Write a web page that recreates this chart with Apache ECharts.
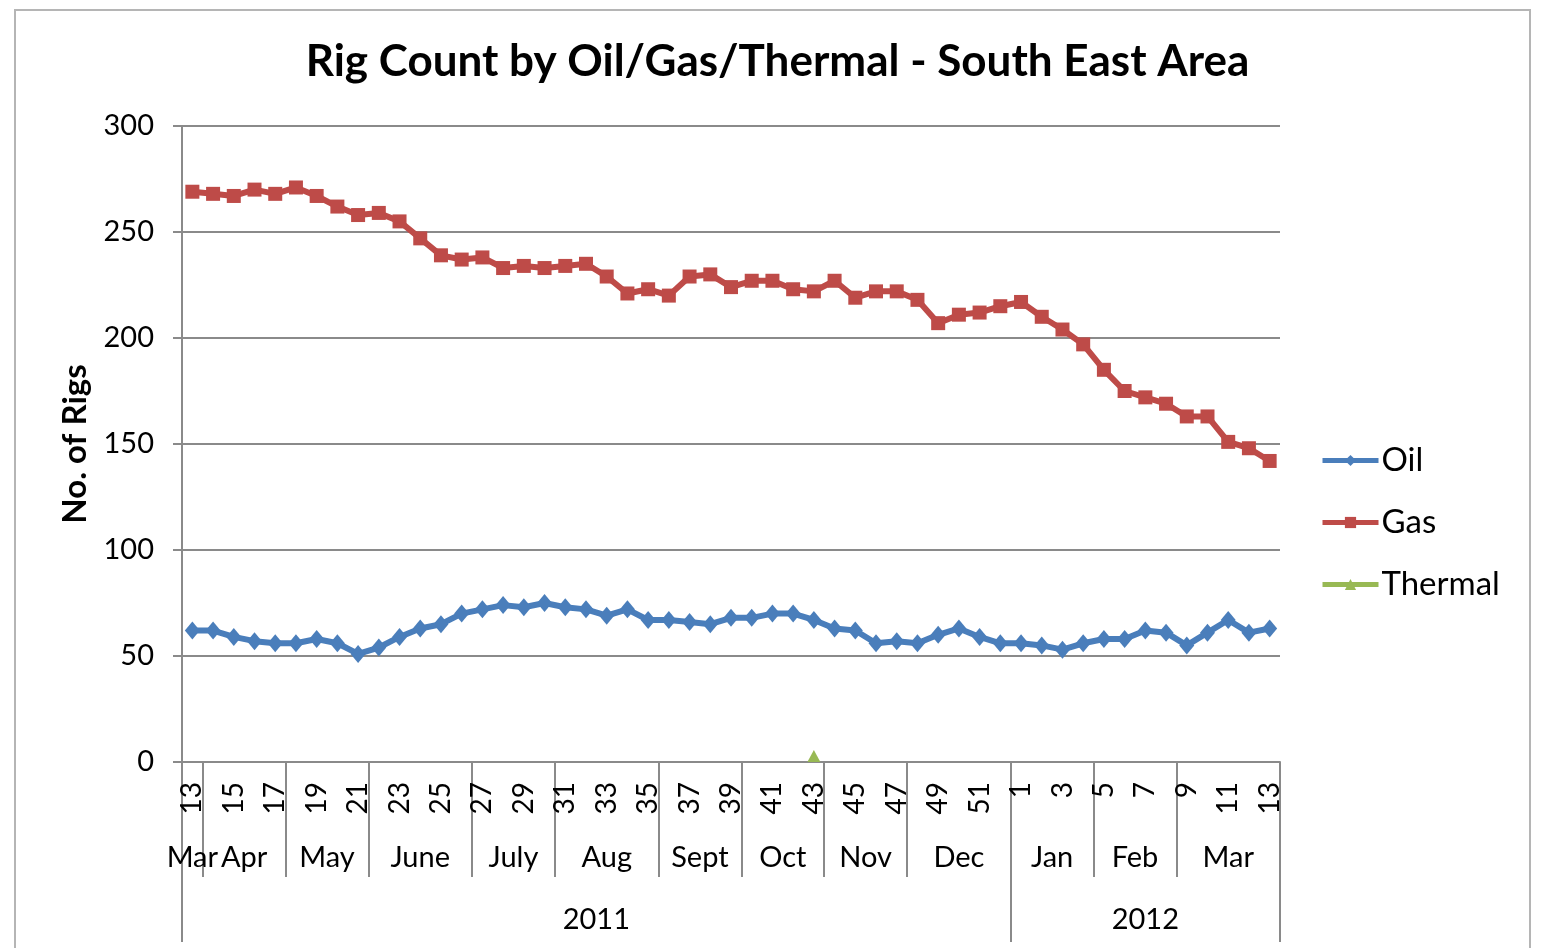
<!DOCTYPE html>
<html>
<head>
<meta charset="utf-8">
<title>Rig Count by Oil/Gas/Thermal - South East Area</title>
<script src="https://cdn.jsdelivr.net/npm/echarts@6/dist/echarts.min.js"></script>
<style>
  html, body { margin: 0; padding: 0; background: #fff; }
  #frame {
    position: absolute; left: 14px; top: 9px; width: 1517px; height: 960px;
    border: 2px solid #b5b5b5; box-sizing: border-box;
  }
  #chart { position: absolute; left: 0; top: 0; width: 1555px; height: 948px; }
</style>
</head>
<body>
<div id="frame"></div>
<div id="chart"></div>
<script>
// week numbers, week 13 of 2011 to week 13 of 2012
const weeks = [
  '13','14','15','16','17','18','19','20','21','22','23','24','25','26','27','28','29','30','31','32',
  '33','34','35','36','37','38','39','40','41','42','43','44','45','46','47','48','49','50','51','52',
  '1','2','3','4','5','6','7','8','9','10','11','12','13'
]

// month groups under the week labels (number of weeks in each)
const monthNames = ['Mar', 'Apr', 'May', 'June', 'July', 'Aug', 'Sept', 'Oct', 'Nov', 'Dec', 'Jan', 'Feb', 'Mar']
const monthWeeks = [1, 4, 4, 5, 4, 5, 4, 4, 4, 5, 4, 4, 5]

// year groups
const yearNames = ['2011', '2012']
const yearWeeks = [40, 13]

const oil = [
  62, 62, 59, 57, 56, 56, 58, 56, 51, 54,
  59, 63, 65, 70, 72, 74, 73, 75, 73, 72,
  69, 72, 67, 67, 66, 65, 68, 68, 70, 70,
  67, 63, 62, 56, 57, 56, 60, 63, 59, 56,
  56, 55, 53, 56, 58, 58, 62, 61, 55, 61,
  67, 61, 63
]

const gas = [
  269, 268, 267, 270, 268, 271, 267, 262, 258, 259,
  255, 247, 239, 237, 238, 233, 234, 233, 234, 235,
  229, 221, 223, 220, 229, 230, 224, 227, 227, 223,
  222, 227, 219, 222, 222, 218, 207, 211, 212, 215,
  217, 210, 204, 197, 185, 175, 172, 169, 163, 163,
  151, 148, 142
]

const thermal = [
  null, null, null, null, null, null, null, null, null, null,
  null, null, null, null, null, null, null, null, null, null,
  null, null, null, null, null, null, null, null, null, null,
  0, null, null, null, null, null, null, null, null, null,
  null, null, null, null, null, null, null, null, null, null,
  null, null, null
]

const FONT = 'Lato'
const GRID_LINE = '#8a8a8a'

// group axes use half-week slots so labels can sit in the middle of a group
// and ticks on the group boundaries
function groupAxis(names, counts) {
  let total = 0
  counts.forEach(c => { total += c })
  const data = new Array(total * 2 + 1).fill('')
  const bounds = new Set()
  let start = 0
  names.forEach((name, k) => {
    bounds.add(start * 2)
    data[start * 2 + counts[k]] = name
    start += counts[k]
  })
  bounds.add(start * 2)
  return { data, bounds }
}

const monthAxis = groupAxis(monthNames, monthWeeks)
const yearAxis = groupAxis(yearNames, yearWeeks)

const chart = echarts.init(document.getElementById('chart'))

const option = {
  animation: false,
  textStyle: { fontFamily: FONT, color: '#000' },
  title: {
    text: 'Rig Count by Oil/Gas/Thermal - South East Area',
    left: 'center',
    top: 35,
    textStyle: { fontFamily: FONT, fontSize: 44, fontWeight: 'bold', color: '#000' }
  },
  legend: {
    orient: 'vertical',
    left: 1320,
    top: 444,
    padding: 0,
    itemWidth: 56,
    itemHeight: 14,
    itemGap: 29,
    lineStyle: { width: 5 },
    textStyle: { fontFamily: FONT, fontSize: 33, color: '#000', padding: [0, 0, 0, -2] },
    data: ['Oil', 'Gas', 'Thermal']
  },
  grid: {
    left: 182,
    top: 126,
    width: 1098,
    height: 636,
    outerBoundsMode: 'none'
  },
  xAxis: [
    {
      type: 'category',
      data: weeks,
      boundaryGap: true,
      position: 'bottom',
      axisLine: { lineStyle: { color: GRID_LINE, width: 2 } },
      axisTick: { show: false },
      axisLabel: { rotate: 90, interval: 1, fontSize: 28, margin: 20, color: '#000', fontFamily: FONT }
    },
    {
      type: 'category',
      data: monthAxis.data,
      boundaryGap: false,
      position: 'bottom',
      axisLine: { show: false },
      axisTick: {
        show: true,
        length: 115,
        interval: idx => monthAxis.bounds.has(idx),
        lineStyle: { color: GRID_LINE, width: 2 }
      },
      axisLabel: {
        interval: (idx, val) => val !== '',
        fontSize: 29, margin: 81, color: '#000', fontFamily: FONT
      }
    },
    {
      type: 'category',
      data: yearAxis.data,
      boundaryGap: false,
      position: 'bottom',
      axisLine: { show: false },
      axisTick: {
        show: true,
        length: 180,
        interval: idx => yearAxis.bounds.has(idx),
        lineStyle: { color: GRID_LINE, width: 2 }
      },
      axisLabel: {
        interval: (idx, val) => val !== '',
        fontSize: 29, margin: 143, color: '#000', fontFamily: FONT
      }
    }
  ],
  yAxis: {
    type: 'value',
    min: 0,
    max: 300,
    interval: 50,
    name: 'No. of Rigs',
    nameLocation: 'middle',
    nameRotate: 90,
    nameGap: 90,
    nameTextStyle: { fontFamily: FONT, fontSize: 33, fontWeight: 'bold', color: '#000' },
    axisLine: { show: true, lineStyle: { color: GRID_LINE, width: 2 } },
    axisTick: { show: true, length: 9, lineStyle: { color: GRID_LINE, width: 2 } },
    axisLabel: { fontSize: 29, margin: 28, color: '#000', fontFamily: FONT },
    splitLine: { lineStyle: { color: GRID_LINE, width: 2 } }
  },
  series: [
    {
      name: 'Oil',
      type: 'line',
      data: oil,
      symbol: 'diamond',
      symbolSize: [15, 18],
      showAllSymbol: true,
      color: '#4A7EBB',
      lineStyle: { width: 6, color: '#4A7EBB' },
      itemStyle: { color: '#4A7EBB' }
    },
    {
      name: 'Gas',
      type: 'line',
      data: gas,
      symbol: 'rect',
      symbolSize: 14,
      showAllSymbol: true,
      color: '#BE4B48',
      lineStyle: { width: 6, color: '#BE4B48' },
      itemStyle: { color: '#BE4B48' }
    },
    {
      name: 'Thermal',
      type: 'line',
      data: thermal,
      symbol: 'triangle',
      symbolSize: [13, 12],
      symbolOffset: [0, '-50%'],
      showAllSymbol: true,
      color: '#98B954',
      lineStyle: { width: 6, color: '#98B954' },
      itemStyle: { color: '#98B954' },
      z: 5
    }
  ]
}

chart.setOption(option)
window.addEventListener('resize', () => chart.resize())
</script>
</body>
</html>
